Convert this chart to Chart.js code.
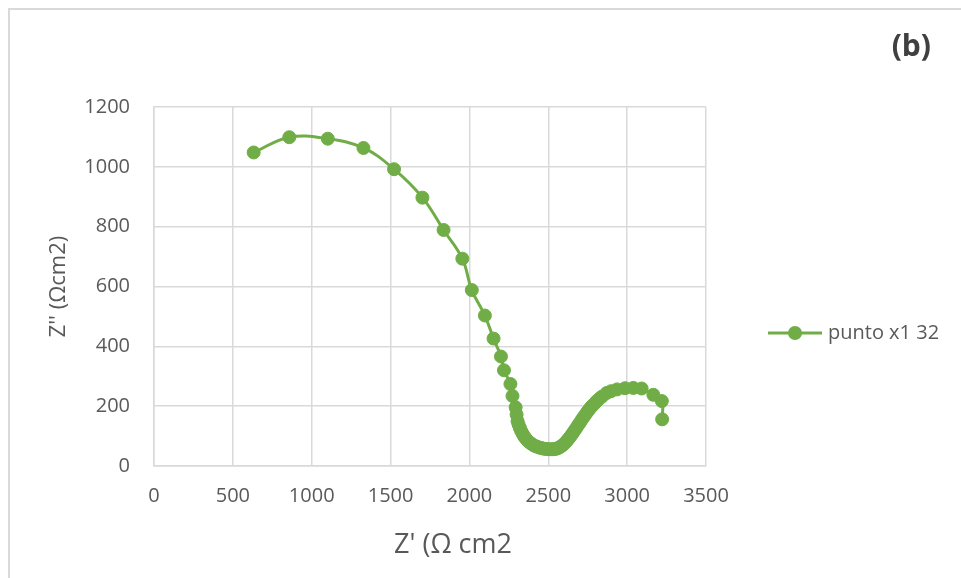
<!DOCTYPE html>
<html>
<head>
<meta charset="utf-8">
<script src="https://cdn.jsdelivr.net/npm/chart.js@4/dist/chart.umd.min.js"></script>
<style>
  html, body { margin: 0; padding: 0; background: #fff; overflow: hidden; }
  #frame { position: absolute; left: 8px; top: 8px; width: 980px; height: 600px; border: 2px solid #d9d9d9; }
  #wrap { position: absolute; left: 0; top: 0; width: 961px; height: 578px; }
</style>
</head>
<body>
<div id="frame"></div>
<div id="wrap"><canvas id="chartNyquist"></canvas></div>
<script>
// Nyquist data: Z' (real part) and Z'' (imaginary part), ohm cm2
const zReal = [
  632, 858, 1102, 1328, 1522, 1702, 1836, 1955, 2015, 2098,
  2153, 2200, 2219, 2260, 2273, 2293, 2299, 2305, 2312, 2320,
  2328, 2337, 2347, 2358, 2370, 2383, 2397, 2411, 2426, 2441,
  2456, 2471, 2486, 2501, 2516, 2531, 2545, 2558, 2570, 2582,
  2594, 2606, 2618, 2630, 2642, 2654, 2666, 2678, 2690, 2702,
  2714, 2726, 2738, 2750, 2762, 2775, 2790, 2805, 2822, 2840,
  2870, 2898, 2936, 2987, 3039, 3092, 3166, 3220, 3222
]
const zImag = [
  1048, 1099, 1094, 1063, 992, 897, 789, 693, 588, 503,
  426, 366, 320, 274, 234, 196, 172, 150, 138, 127,
  117, 108, 99, 91, 84, 78, 73, 68, 65, 62,
  60, 58, 57, 56, 56, 56, 57, 59, 62, 66,
  71, 77, 84, 92, 100, 109, 118, 127, 137, 146,
  156, 165, 174, 183, 191, 199, 207, 216, 224, 232,
  244, 250, 256, 260, 261, 259, 238, 217, 156
]
const seriesName = 'punto x1 32'
const panelLabel = '(b)'
const xTitle = "Z' (Ω cm2"
const yTitle = "Z'' (Ωcm2)"

const xTicks = { min: 0, max: 3500, step: 500 }
const yTicks = { min: 0, max: 1200, step: 200 }

const green = '#70ad47'
const textGray = '#595959'
const gridGray = '#d9d9d9'

// legend, x title and panel letter drawn straight on the canvas
const extras = {
  id: 'extras',
  afterDraw(chart) {
    const ctx = chart.ctx
    ctx.save()
    ctx.strokeStyle = green
    ctx.lineWidth = 3
    ctx.beginPath()
    ctx.moveTo(768, 333)
    ctx.lineTo(822, 333)
    ctx.stroke()
    ctx.fillStyle = green
    ctx.beginPath()
    ctx.arc(795, 333, 7, 0, Math.PI * 2)
    ctx.fill()
    ctx.fillStyle = textGray
    ctx.font = '20px "Open Sans"'
    ctx.textBaseline = 'middle'
    ctx.textAlign = 'left'
    ctx.fillText(seriesName, 828, 333)

    ctx.font = '27px "Open Sans"'
    ctx.textAlign = 'center'
    ctx.fillText(xTitle, 453, 545)

    ctx.fillStyle = '#404040'
    ctx.font = 'bold 30px "Open Sans"'
    ctx.textAlign = 'right'
    ctx.fillText(panelLabel, 931, 47)
    ctx.restore()
  }
}

new Chart(document.getElementById('chartNyquist'), {
  type: 'scatter',
  data: {
    datasets: [{
      label: seriesName,
      data: zReal.map((x, i) => ({ x, y: zImag[i] })),
      showLine: true,
      tension: 0.4,
      borderColor: green,
      borderWidth: 3,
      backgroundColor: green,
      pointBackgroundColor: green,
      pointBorderColor: green,
      pointBorderWidth: 1,
      pointRadius: 6.5
    }]
  },
  options: {
    responsive: true,
    maintainAspectRatio: false,
    animation: false,
    events: [],
    layout: { padding: { left: 0, right: 255, top: 107, bottom: 18 } },
    plugins: { legend: { display: false }, tooltip: { enabled: false } },
    scales: {
      x: {
        type: 'linear',
        min: xTicks.min,
        max: xTicks.max,
        afterFit: s => { s.height = 94 },
        ticks: { stepSize: xTicks.step, padding: 18, color: textGray, font: { family: 'Open Sans', size: 20 }, callback: v => String(v) },
        grid: { color: gridGray, lineWidth: 1.5, drawTicks: false },
        border: { color: gridGray, width: 1.5 }
      },
      y: {
        type: 'linear',
        min: yTicks.min,
        max: yTicks.max,
        afterFit: s => { s.width = 154 },
        ticks: { stepSize: yTicks.step, padding: 24, color: textGray, font: { family: 'Open Sans', size: 20 }, callback: v => String(v) },
        grid: { color: gridGray, lineWidth: 1.5, drawTicks: false },
        border: { color: gridGray, width: 1.5 },
        title: { display: true, text: yTitle, color: textGray, padding: { top: 46, bottom: 0 }, font: { family: 'Open Sans', size: 22 } }
      }
    }
  },
  plugins: [extras]
})
</script>
</body>
</html>
